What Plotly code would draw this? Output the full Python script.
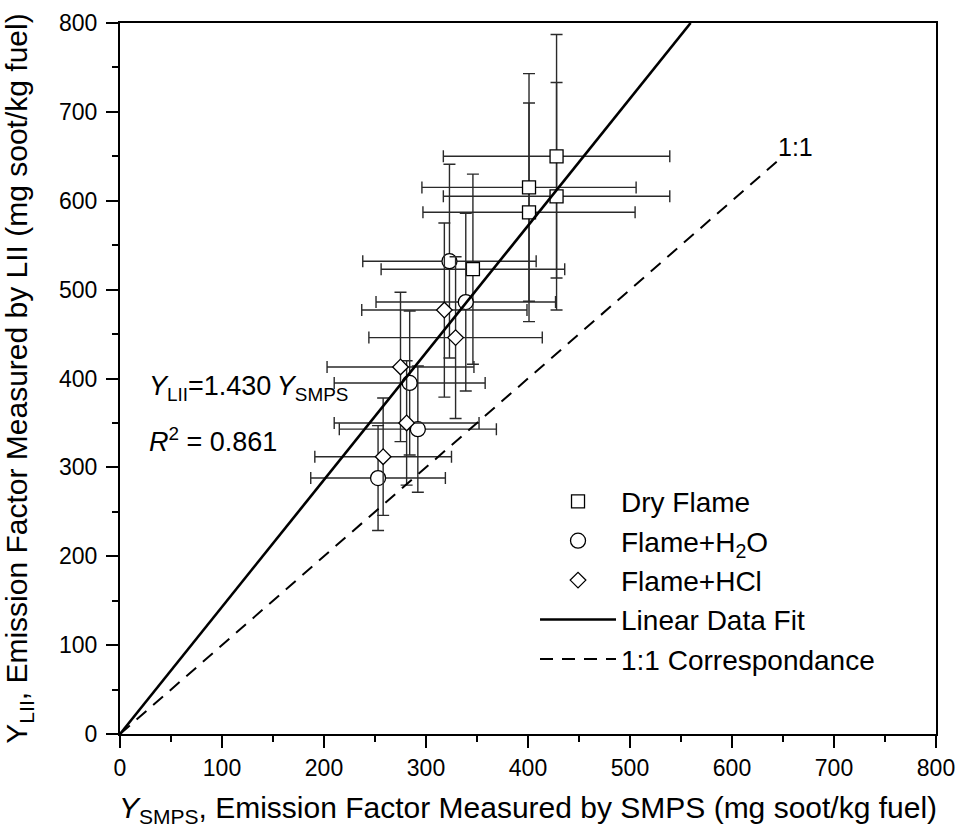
import plotly.graph_objects as go

# ---- data ----
dry_x = [428, 401, 401, 428, 346]
dry_y = [650, 615, 587, 605, 523]
dry_xerr = [111, 105, 104, 111, 90]
dry_yerr = [137, 128, 123, 128, 107]

h2o_x = [323, 339, 284, 292, 253]
h2o_y = [532, 486, 395, 343, 288]
h2o_xerr = [85, 88, 74, 77, 66]
h2o_yerr = [109, 100, 81, 71, 59]

hcl_x = [318, 329, 275, 281, 258]
hcl_y = [477, 446, 413, 350, 312]
hcl_xerr = [81, 85, 72, 71, 67]
hcl_yerr = [98, 91, 84, 70, 66]

fit_slope = 1.430
fit_r2 = 0.861
axis_max = 800
one_to_one_max = 650

tick_vals = [0, 100, 200, 300, 400, 500, 600, 700, 800]

FONT = "Liberation Sans, Arial, sans-serif"
ERR_COLOR = "#2a2a2a"

fig = go.Figure()


def add_series(name, xs, ys, xe, ye, symbol, size):
    fig.add_trace(go.Scatter(
        x=xs, y=ys, mode="markers", name=name,
        marker=dict(symbol=symbol, size=size, color="white",
                    line=dict(color="black", width=1.3)),
        error_x=dict(type="data", array=xe, visible=True, color=ERR_COLOR,
                     thickness=1.4, width=6),
        error_y=dict(type="data", array=ye, visible=True, color=ERR_COLOR,
                     thickness=1.4, width=6),
    ))


add_series("Dry Flame", dry_x, dry_y, dry_xerr, dry_yerr, "square", 13)
add_series("Flame+H<sub>2</sub>O", h2o_x, h2o_y, h2o_xerr, h2o_yerr, "circle", 15)
add_series("Flame+HCl", hcl_x, hcl_y, hcl_xerr, hcl_yerr, "diamond", 12)

fit_x = [0, axis_max / fit_slope]
fit_y = [fit_slope * v for v in fit_x]
fig.add_trace(go.Scatter(x=fit_x, y=fit_y, mode="lines", name="Linear Data Fit",
                         line=dict(color="black", width=2.6)))

oo = [0, one_to_one_max]
fig.add_trace(go.Scatter(x=oo, y=oo, mode="lines", name="1:1 Correspondance",
                         line=dict(color="black", width=2, dash="13px,9px")))

fig.add_annotation(x=0.0325, y=0.487, xref="paper", yref="paper",
                   xanchor="left", yanchor="middle", showarrow=False,
                   text="<i>Y</i><sub>LII</sub>=1.430\u2009<i>Y</i><sub>SMPS</sub>",
                   font=dict(family=FONT, size=27, color="black"))
fig.add_annotation(x=0.0325, y=0.4135, xref="paper", yref="paper",
                   xanchor="left", yanchor="middle", showarrow=False,
                   text=f"<i>R</i><sup>2</sup> = {fit_r2:.3f}",
                   font=dict(family=FONT, size=27, color="black"))
fig.add_annotation(x=662, y=660, xref="x", yref="y", showarrow=False,
                   text="1:1", font=dict(family=FONT, size=25, color="black"))

axis_common = dict(
    range=[0, axis_max], tickvals=tick_vals, ticks="outside", ticklen=12,
    tickwidth=2, tickcolor="black", showline=True, linewidth=2.2,
    linecolor="black", mirror=True, showgrid=False, zeroline=False,
    automargin=False,
    tickfont=dict(family=FONT, size=23, color="black"),
    minor=dict(dtick=50, ticks="outside", ticklen=6, tickwidth=2,
               tickcolor="black", showgrid=False),
)

fig.update_xaxes(**axis_common,
                 title=dict(text="<i>Y</i><sub>SMPS</sub>, Emission Factor Measured by SMPS (mg soot/kg fuel)",
                            font=dict(family=FONT, size=30, color="black"), standoff=17))
fig.update_yaxes(**axis_common, ticklabelstandoff=4,
                 title=dict(text="Y<sub>LII</sub>, Emission Factor Measured by LII (mg soot/kg fuel)",
                            font=dict(family=FONT, size=30, color="black"), standoff=22))

fig.update_layout(
    width=958, height=834,
    margin=dict(l=120, r=22, t=23, b=100),
    paper_bgcolor="white", plot_bgcolor="white",
    showlegend=True,
    legend=dict(x=0.5086, y=0.362, xanchor="left", yanchor="top",
                bgcolor="rgba(0,0,0,0)", borderwidth=0,
                font=dict(family=FONT, size=28, color="black"),
                itemwidth=76),
)

fig.write_html("out.html")
